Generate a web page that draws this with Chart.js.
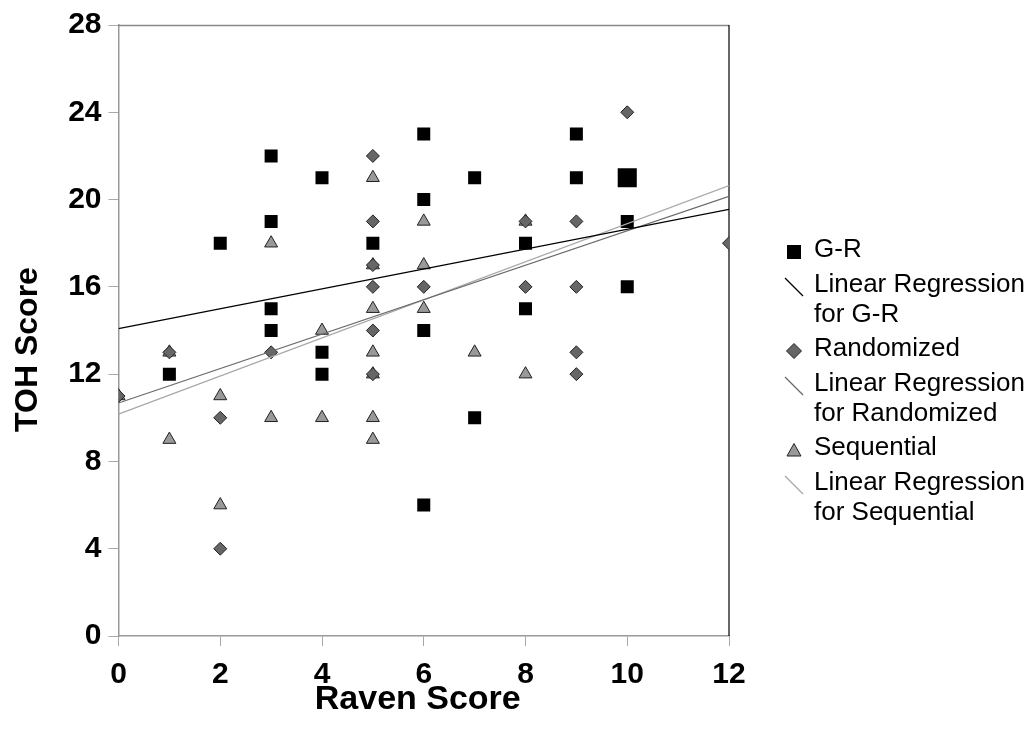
<!DOCTYPE html>
<html><head><meta charset="utf-8">
<script src="https://cdn.jsdelivr.net/npm/chart.js@4/dist/chart.umd.min.js"></script>
<style>
html,body{margin:0;padding:0;background:#fff;}
#wrap{position:relative;width:1034px;height:740px;overflow:hidden;}
#c{position:absolute;left:0;top:0;}
#legend{position:absolute;left:0;top:0;width:1034px;height:740px;font-family:"Liberation Sans",Arial,sans-serif;font-size:26px;color:#000;pointer-events:none;}
.li{position:absolute;left:814px;line-height:30px;white-space:nowrap;}
.mk{position:absolute;}
</style></head>
<body>
<div id="wrap"><canvas id="c" width="1034" height="740"></canvas><div id="legend"></div></div>
<script>
// ---- data ----
const grX = [1,2,3,3,3,3,4,4,4,5,6,6,6,6,7,7,8,8,9,9,10,10,10];
const grY = [12,18,22,19,15,14,21,13,12,18,23,20,14,6,21,10,18,15,23,21,21,19,16];
const randX = [0,1,2,2,3,5,5,5,5,5,5,6,8,8,9,9,9,9,10,12];
const randY = [11,13,10,4,13,22,19,17,16,14,12,16,19,16,19,16,13,12,24,18];
const seqX = [0,1,1,2,2,3,3,4,4,5,5,5,5,5,5,5,6,6,6,7,8,8];
const seqY = [11,13,9,11,6,18,10,14,10,21,17,15,13,12,10,9,19,17,15,13,19,12];
const regX = [0,12];
const regGR = [14.09,19.55];
const regRand = [10.68,20.15];
const regSeq = [10.17,20.64];
const xTicks = [0,2,4,6,8,10,12];
const yTicks = [0,4,8,12,16,20,24,28];
const xTitle = 'Raven Score';
const yTitle = 'TOH Score';
const seriesNames = ["G-R","Linear Regression\nfor G-R","Randomized","Linear Regression\nfor Randomized","Sequential","Linear Regression\nfor Sequential"];

const pts = (xs, ys) => xs.map((x,i)=>({x:x,y:ys[i]}));
const FONT = '"Liberation Sans", Arial, sans-serif';
const bigIdx = 20; // larger marker at (10,21)

const framePlugin = {
  id:'frame',
  beforeDatasetsDraw(chart){
    const {ctx, chartArea:a} = chart;
    ctx.save();
    ctx.lineWidth = 1.5;
    ctx.strokeStyle = '#888';
    ctx.beginPath(); ctx.moveTo(a.left, a.top+0.5); ctx.lineTo(a.right, a.top+0.5); ctx.stroke();
    ctx.strokeStyle = '#000';
    ctx.lineWidth = 1.2;
    ctx.beginPath(); ctx.moveTo(a.right, a.top); ctx.lineTo(a.right, a.bottom); ctx.stroke();
    ctx.restore();
  },
  afterDraw(chart){
    const {ctx, chartArea:a} = chart;
    ctx.save();
    ctx.fillStyle = '#000';
    ctx.textAlign = 'center';
    ctx.textBaseline = 'middle';
    ctx.font = 'bold 34px ' + FONT;
    ctx.fillText(xTitle, (a.left + a.right)/2 - 6, a.bottom + 64);
    ctx.translate(28, (a.top + a.bottom)/2 + 19);
    ctx.rotate(-Math.PI/2);
    ctx.font = 'bold 32px ' + FONT;
    ctx.fillText(yTitle, 0, 0);
    ctx.restore();
  }
};

new Chart(document.getElementById('c'), {
  type:'scatter',
  data:{datasets:[
    {label:seriesNames[1], type:'line', data:pts(regX,regGR), borderColor:'#000', borderWidth:1.3, pointRadius:0, fill:false, order:1},
    {label:seriesNames[3], type:'line', data:pts(regX,regRand), borderColor:'#6a6a6a', borderWidth:1.2, pointRadius:0, fill:false, order:2},
    {label:seriesNames[5], type:'line', data:pts(regX,regSeq), borderColor:'#a8a8a8', borderWidth:1.2, pointRadius:0, fill:false, order:3},
    {label:seriesNames[2], data:pts(randX,randY), pointStyle:'rectRot', pointRadius:6.5, pointHoverRadius:6.5, backgroundColor:'#666', borderColor:'#222', borderWidth:1, order:4},
    {label:seriesNames[4], data:pts(seqX,seqY), pointStyle:'triangle', pointRadius:7.5, pointHoverRadius:7.5, backgroundColor:'#999', borderColor:'#222', borderWidth:1, order:5},
    {label:seriesNames[0], data:pts(grX,grY), pointStyle:'rect', pointRadius:(c)=>c.dataIndex===bigIdx?13.5:9.2, pointHoverRadius:(c)=>c.dataIndex===bigIdx?13.5:9.2, backgroundColor:'#000', borderColor:'#000', borderWidth:0, order:6}
  ]},
  options:{
    responsive:false, animation:false, events:[],
    layout:{padding:{left:5,right:305,top:22,bottom:17}},
    plugins:{legend:{display:false},tooltip:{enabled:false}},
    scales:{
      x:{type:'linear',min:0,max:12,
        afterBuildTicks:(s)=>{s.ticks=xTicks.map(v=>({value:v}));},
        afterFit:(s)=>{s.height=87;},
        grid:{drawOnChartArea:false,drawTicks:true,tickLength:10,tickColor:'#aaa'},
        border:{color:'#999',width:1.5},
        ticks:{padding:11,color:'#000',font:{family:FONT,size:30,weight:'bold'},maxRotation:0},
        title:{display:false}
      },
      y:{type:'linear',min:0,max:28,
        afterBuildTicks:(s)=>{s.ticks=yTicks.map(v=>({value:v}));},
        afterFit:(s)=>{s.width=113.5;},
        grid:{drawOnChartArea:false,drawTicks:true,tickLength:10,tickColor:'#aaa'},
        border:{color:'#999',width:1.5},
        ticks:{padding:7,color:'#000',font:{family:FONT,size:30,weight:'bold'}},
        title:{display:false}
      }
    }
  },
  plugins:[framePlugin]
});

// ---- HTML legend ----
const leg = document.getElementById('legend');
const markers = [
  '<svg width="20" height="20"><rect x="3" y="3" width="14" height="14" fill="#000"/></svg>',
  '<svg width="20" height="20"><line x1="1" y1="1" x2="19" y2="19" stroke="#000" stroke-width="1.2"/></svg>',
  '<svg width="20" height="20"><polygon points="10,2.5 17.5,10 10,17.5 2.5,10" fill="#666" stroke="#222" stroke-width="1"/></svg>',
  '<svg width="20" height="20"><line x1="1" y1="1" x2="19" y2="19" stroke="#6a6a6a" stroke-width="1.2"/></svg>',
  '<svg width="20" height="20"><polygon points="10,3.5 17,16 3,16" fill="#999" stroke="#222" stroke-width="1"/></svg>',
  '<svg width="20" height="20"><line x1="1" y1="1" x2="19" y2="19" stroke="#a8a8a8" stroke-width="1.2"/></svg>'
];
let legTop = 233;
seriesNames.forEach((name,i)=>{
  const lines = name.split('\n');
  const d = document.createElement('div');
  d.className='li'; d.style.top = legTop+'px';
  d.innerHTML = lines.join('<br>');
  leg.appendChild(d);
  const m = document.createElement('div');
  m.className='mk'; m.style.left='784px'; m.style.top=(legTop+5)+'px';
  m.innerHTML = markers[i];
  leg.appendChild(m);
  legTop += lines.length*30 + 4.5;
});
</script>
</body></html>
